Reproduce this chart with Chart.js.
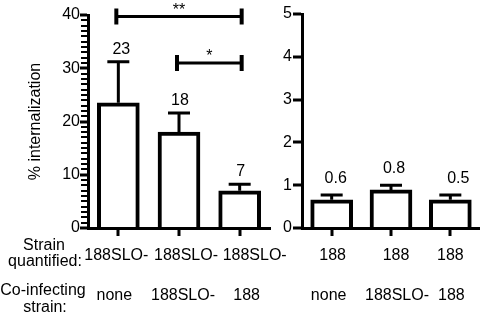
<!DOCTYPE html>
<html><head><meta charset="utf-8">
<script src="https://cdn.jsdelivr.net/npm/chart.js@4.4.1/dist/chart.umd.min.js"></script>
<style>
html,body{margin:0;padding:0;background:#fff;width:480px;height:314px;overflow:hidden}
#wrap{position:relative;width:480px;height:314px}
#cl{position:absolute;left:0;top:0}
#cr{position:absolute;left:275px;top:0}
</style></head><body>
<div id="wrap"><canvas id="cl" width="300" height="314"></canvas><canvas id="cr" width="205" height="314"></canvas></div>
<script>
// ---- data ----
const leftStrainQuantified = ['188SLO-', '188SLO-', '188SLO-'];
const leftCoInfecting = ['none', '188SLO-', '188'];
const leftMeans = [23.5, 18.0, 7.0];
const leftErrors = [7.7, 3.6, 1.2];
const leftValueLabels = ['23', '18', '7'];
const leftYTicks = [0, 10, 20, 30, 40];

const rightStrainQuantified = ['188', '188', '188'];
const rightCoInfecting = ['none', '188SLO-', '188'];
const rightMeans = [0.66, 0.89, 0.66];
const rightErrors = [0.11, 0.11, 0.11];
const rightValueLabels = ['0.6', '0.8', '0.5'];
const rightYTicks = [0, 1, 2, 3, 4, 5];

const bracketFrom = [0, 1];
const bracketTo = [2, 2];
const bracketLevel = [39.7, 31.0];
const bracketText = ['**', '*'];

const rowHeaders = ['Strain', 'quantified:', 'Co-infecting', 'strain:'];
const yTitle = '% internalization';

// ---- styling ----
const FONT = '"Liberation Sans", Arial, Helvetica, sans-serif';

const annotPlugin = {
  id: 'annot',
  afterDraw(chart, args, o) {
    const ctx = chart.ctx;
    const ca = chart.chartArea;
    const xs = chart.scales.x, ys = chart.scales.y;
    const meta = chart.getDatasetMeta(0);
    ctx.save();
    ctx.strokeStyle = '#000000';
    ctx.fillStyle = '#000000';
    ctx.lineCap = 'butt';
    ctx.setLineDash([]);
    // y tick marks (major + minor), one per scale tick
    const yvals = ys.ticks.map(t => t.value);
    yvals.forEach(v => {
      const y = Math.round(ys.getPixelForValue(v));
      const major = o.yTicks.includes(v);
      const len = major ? o.majorLen : o.minorLen;
      const w = major ? 3 : 2;
      ctx.fillRect(ca.left - 1 - len, y - w / 2, len, w);
    });
    // x tick marks at category centres
    meta.data.forEach(bar => {
      const x = Math.round(bar.x);
      ctx.fillRect(x - 1.5, ca.bottom + 1, 3, 7);
    });
    ctx.font = '16px ' + FONT;
    ctx.textAlign = 'center';
    ctx.textBaseline = 'alphabetic';
    o.means.forEach((m, i) => {
      const bar = meta.data[i];
      const x = bar.x;
      const yTop = ys.getPixelForValue(m + o.errors[i]);
      ctx.lineWidth = 3;
      ctx.beginPath();
      ctx.moveTo(x, bar.y);
      ctx.lineTo(x, yTop);
      ctx.moveTo(x - o.capHalf, yTop);
      ctx.lineTo(x + o.capHalf, yTop);
      ctx.stroke();
      ctx.fillText(o.valueLabels[i], x + o.labelDx[i], yTop - o.labelGap);
    });
    // category rows
    o.rows.forEach(row => {
      row.texts.forEach((t, i) => {
        ctx.fillText(t, xs.getPixelForValue(i) + row.dx[i], row.y);
      });
    });
    // headers
    (o.headers || []).forEach(h => ctx.fillText(h.text, h.x, h.y));
    // brackets
    (o.brackets || []).forEach(b => {
      const x1 = xs.getPixelForValue(b.from) - 2, x2 = xs.getPixelForValue(b.to) + 2;
      const y = ys.getPixelForValue(b.level);
      ctx.lineWidth = 3;
      ctx.beginPath(); ctx.moveTo(x1, y); ctx.lineTo(x2, y); ctx.stroke();
      ctx.lineWidth = 4;
      ctx.beginPath();
      ctx.moveTo(x1, y - 8); ctx.lineTo(x1, y + 8);
      ctx.moveTo(x2, y - 8); ctx.lineTo(x2, y + 8);
      ctx.stroke();
      ctx.fillText(b.text, (x1 + x2) / 2, y - 2);
    });
    ctx.restore();
  }
};

function makeChart(id, cfg) {
  return new Chart(document.getElementById(id), {
    type: 'bar',
    data: {
      labels: cfg.labels,
      datasets: [{
        data: cfg.means,
        backgroundColor: '#fff',
        borderColor: '#000',
        borderWidth: 4,
        barThickness: 42
      }]
    },
    options: {
      responsive: false,
      animation: false,
      events: [],
      layout: { padding: { left: 0, right: cfg.padRight, top: cfg.padTop, bottom: 0 } },
      plugins: {
        legend: { display: false },
        tooltip: { enabled: false },
        annot: cfg.annot
      },
      scales: {
        x: {
          type: 'category',
          grid: { display: false, drawTicks: false, offset: false },
          border: { display: true, color: '#000', width: 3, z: 1 },
          ticks: { display: false },
          afterFit: s => { s.height = 86; }
        },
        y: {
          min: 0, max: cfg.max,
          grid: { display: false, drawOnChartArea: false, drawTicks: true, tickLength: cfg.tickLength },
          border: { display: true, color: '#000', width: 3, z: 1 },
          ticks: {
            stepSize: cfg.step, autoSkip: false, color: '#000', padding: cfg.tickPad,
            font: { family: FONT, size: 16 },
            callback: v => cfg.yTicks.includes(v) ? String(v) : ''
          },
          title: cfg.title ? { display: true, text: cfg.title, color: '#000', font: { family: FONT, size: 16 }, padding: { top: 26, bottom: 0 } } : { display: false },
          afterFit: s => { s.width = cfg.yWidth; }
        }
      }
    },
    plugins: [annotPlugin]
  });
}

makeChart('cl', {
  labels: leftStrainQuantified.map((s, i) => s + ' / ' + leftCoInfecting[i]),
  means: leftMeans, max: 40, step: 1, yTicks: leftYTicks, tickLength: 7, tickPad: 1,
  yWidth: 88, padRight: 30, padTop: 15, title: yTitle,
  annot: {
    yTicks: leftYTicks, majorLen: 7, minorLen: 6,
    means: leftMeans, errors: leftErrors, valueLabels: leftValueLabels,
    labelDx: [3, 1, 1], labelGap: 8, capHalf: 11,
    rows: [
      { texts: leftStrainQuantified, dx: [-2, 7, 15], y: 260 },
      { texts: leftCoInfecting, dx: [-4, 4, 7], y: 300 }
    ],
    headers: [
      { text: rowHeaders[0], x: 44, y: 250 },
      { text: rowHeaders[1], x: 45, y: 266 },
      { text: rowHeaders[2], x: 43, y: 295 },
      { text: rowHeaders[3], x: 45, y: 312 }
    ],
    brackets: bracketFrom.map((f, i) => ({ from: f, to: bracketTo[i], level: bracketLevel[i], text: bracketText[i] }))
  }
});

makeChart('cr', {
  labels: rightStrainQuantified.map((s, i) => s + ' / ' + rightCoInfecting[i]),
  means: rightMeans, max: 5, step: 1, yTicks: rightYTicks, tickLength: 8, tickPad: 2,
  yWidth: 27, padRight: 0, padTop: 14, title: null,
  annot: {
    yTicks: rightYTicks, majorLen: 8, minorLen: 8,
    means: rightMeans, errors: rightErrors, valueLabels: rightValueLabels,
    labelDx: [4, 3, 8], labelGap: 12, capHalf: 11,
    rows: [
      { texts: rightStrainQuantified, dx: [1, 5, 0], y: 260 },
      { texts: rightCoInfecting, dx: [-3, 6, 1], y: 300 }
    ]
  }
});
</script>
</body></html>
